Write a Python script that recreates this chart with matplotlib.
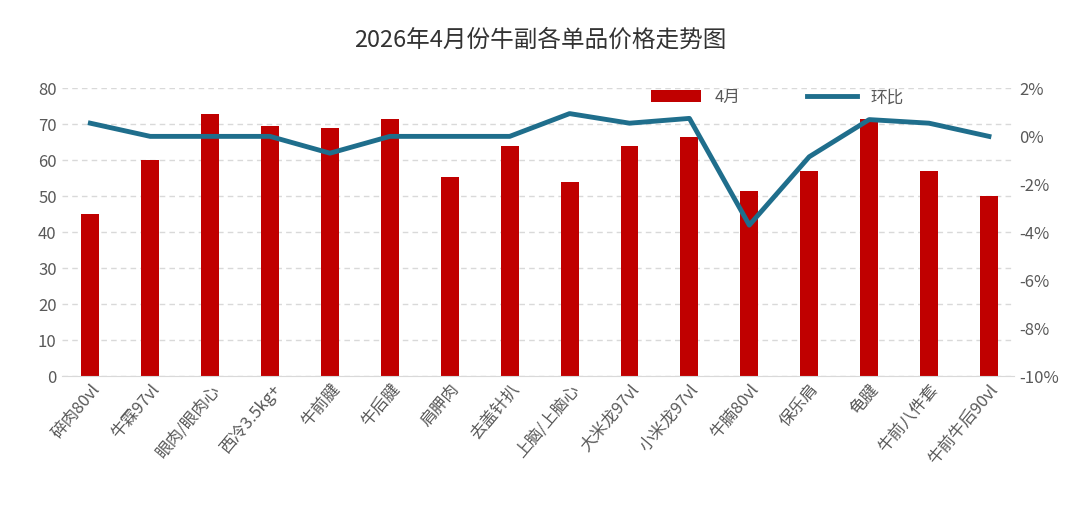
import matplotlib
matplotlib.use("Agg")
import matplotlib.pyplot as plt
from matplotlib.ticker import FuncFormatter

plt.rcParams['font.family'] = ['Noto Sans CJK SC', 'DejaVu Sans']

categories = ["碎肉80vl", "牛霖97vl", "眼肉/眼肉心", "西冷3.5kg+", "牛前腱", "牛后腱", "肩胛肉", "去盖针扒",
              "上脑/上脑心", "大米龙97vl", "小米龙97vl", "牛腩80vl", "保乐肩", "龟腱", "牛前八件套", "牛前牛后90vl"]
price_apr = [45, 60, 73, 69.5, 69, 71.5, 55.5, 64, 54, 64, 66.5, 51.5, 57, 71.5, 57, 50]
mom_pct = [0.55, 0, 0, 0, -0.7, 0, 0, 0, 0.95, 0.55, 0.75, -3.7, -0.85, 0.7, 0.55, 0]

grey = '#595959'
fig = plt.figure(figsize=(10.8, 5.14), dpi=100)
ax = fig.add_axes([0.057, 0.268, 0.882, 0.56])
x = list(range(len(categories)))
ax.bar(x, price_apr, width=0.3, color='#c00000', label='4月', zorder=2)
ax.set_ylim(0, 80)
ax.set_yticks(range(0, 81, 10))
ax.set_xlim(-0.48, len(categories) - 0.58)
ax.grid(axis='y', ls=(0, (4, 3)), color='#d9d9d9', lw=1, zorder=0)
for s in ['top', 'right', 'left']:
    ax.spines[s].set_visible(False)
ax.spines['bottom'].set_color('#d9d9d9')
ax.tick_params(axis='both', length=0, colors=grey, labelsize=12)
ax.set_xticks(x)
ax.set_xticklabels(categories, rotation=50, ha='right', rotation_mode='anchor', fontsize=12, color=grey)

ax2 = ax.twinx()
ax2.plot(x, mom_pct, color='#1f6e8c', lw=3.5, label='环比', zorder=3)
ax2.set_ylim(-10, 2)
ax2.set_yticks(range(-10, 3, 2))
ax2.yaxis.set_major_formatter(FuncFormatter(lambda v, p: f"{int(v)}%"))
for s in ax2.spines.values():
    s.set_visible(False)
ax2.tick_params(axis='y', length=0, colors=grey, labelsize=12)

h1, l1 = ax.get_legend_handles_labels()
h2, l2 = ax2.get_legend_handles_labels()
fig.legend(h1 + h2, l1 + l2, loc='center', bbox_to_anchor=(0.72, 0.81), ncol=2, frameon=False,
           fontsize=12, labelcolor=grey, columnspacing=4, handlelength=3)

fig.suptitle('2026年4月份牛副各单品价格走势图', y=0.945, fontsize=17, color='#333333')
fig.savefig('out.png', dpi=100)
